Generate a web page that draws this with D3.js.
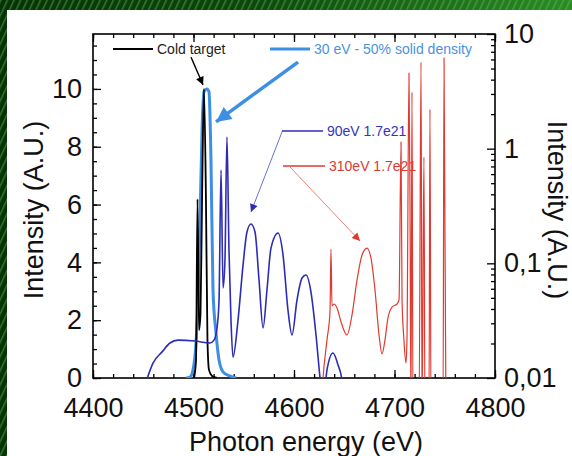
<!DOCTYPE html>
<html lang="en">
<head>
<meta charset="UTF-8">
<title>Photon energy spectra</title>
<script src="https://cdnjs.cloudflare.com/ajax/libs/d3/7.8.5/d3.min.js"></script>
<style>
  body { margin: 0; background: #fff; }
  svg { display: block; font-family: "Liberation Sans", Arial, Helvetica, sans-serif; }
</style>
</head>
<body>
<script>
// cold target spectrum (left axis, linear)
var coldE = [4500.5, 4502.5, 4504.0, 4505.5, 4507.0, 4508.5, 4510.4, 4512.4, 4513.9, 4515.4, 4518.4, 4523.4];
var coldI = [0, 0.62, 6.19, 1.66, 2.25, 6.16, 10.0, 6.16, 1.31, 0.28, 0.07, 0];

// 30 eV - 50% solid density (left axis, linear)
var hot30E = [4492.5, 4496.5, 4499.5, 4502.5, 4504.5, 4506.5, 4508.5, 4510.4, 4513.4, 4515.4, 4517.4, 4519.4, 4522.4, 4525.4, 4529.4, 4536.3, 4542.3];
var hot30I = [0, 0.03, 0.28, 1.21, 2.70, 5.47, 8.58, 9.90, 10.0, 9.90, 7.54, 3.04, 1.56, 0.62, 0.21, 0.07, 0];

// 90eV 1.7e21 (right axis, log)
var hot90E = [4453.7, 4459.7, 4468.7, 4476.6, 4484.6, 4501.5, 4516.4, 4520.4, 4523.4, 4525.4, 4527.4, 4529.4, 4531.3, 4533.3,
  4535.3, 4537.3, 4539.3, 4544.3, 4549.3, 4553.2, 4557.2, 4561.2, 4565.2, 4569.2, 4573.1, 4577.1, 4584.1, 4589.1, 4594.0,
  4598.0, 4603.0, 4608.0, 4611.9, 4616.9, 4621.9, 4625.9, 4628.9, 4632.8, 4638.8, 4643.8, 4647.8, 4650.0];
var hot90I = [0.0098, 0.0135, 0.0169, 0.0202, 0.0214, 0.0210, 0.0202, 0.0214, 0.0273, 0.0479, 0.650, 0.0609, 0.1069, 1.262,
  0.1306, 0.0320, 0.0152, 0.0320, 0.0966, 0.1875, 0.2201, 0.1875, 0.0715, 0.0273, 0.0585, 0.1359, 0.1837, 0.1181, 0.0392,
  0.0237, 0.0479, 0.0745, 0.0791, 0.0562, 0.0237, 0.0100, 0.0060, 0.0117, 0.0165, 0.0130, 0.0095, 0.0060];

// 310eV 1.7e21 (right axis, log)
var hot310E = [4626.9, 4628.9, 4632.8, 4635.8, 4636.8, 4637.8, 4639.8, 4642.8, 4646.8, 4652.7, 4657.7, 4662.7, 4667.7,
  4672.6, 4676.6, 4680.6, 4684.6, 4687.6, 4690.5, 4693.5, 4697.5, 4702.5, 4704.5, 4706.5, 4707.5, 4709.4, 4711.4, 4712.4,
  4714.4, 4715.4, 4716.4, 4717.4, 4718.4, 4724.4, 4726.4, 4727.4, 4729.3, 4730.3, 4734.3, 4735.3, 4736.3, 4748.3, 4749.3, 4751.2];
var hot310I = [0.005, 0.0100, 0.0214, 0.0376, 0.1333, 0.0425, 0.0442, 0.0408, 0.0308, 0.0237, 0.0354, 0.0715, 0.1181,
  0.1359, 0.1112, 0.0585, 0.0237, 0.0162, 0.0214, 0.0334, 0.0416, 0.0442, 0.0479, 1.142, 0.0479, 0.0214, 0.0135, 0.0214,
  4.56, 0.356, 0.005, 3.11, 0.005, 0.005, 5.69, 0.005, 0.845, 0.005, 0.005, 2.21, 0.005, 0.005, 6.17, 0.005];

// ticks
var xTicks = [4400, 4500, 4600, 4700, 4800];
var yLeftTicks = [0, 2, 4, 6, 8, 10];
var yRightTicks = [0.01, 0.1, 1, 10];
var yRightLabels = ["0,01", "0,1", "1", "10"];

var W = 572, H = 456;
var pL = 93, pR = 495, pT = 34, pB = 378;

var svg = d3.select("body").append("svg")
    .attr("width", W)
    .attr("height", H);

var defs = svg.append("defs");

// green slide background with stripes
var grad = defs.append("linearGradient").attr("id", "bgGrad").attr("x1", 0).attr("x2", 1).attr("y1", 0).attr("y2", 0);
grad.append("stop").attr("offset", 0).attr("stop-color", "#063306");
grad.append("stop").attr("offset", 0.45).attr("stop-color", "#0c480c");
grad.append("stop").attr("offset", 1).attr("stop-color", "#2a8c24");
var pat = defs.append("pattern").attr("id", "stripes")
    .attr("width", 6).attr("height", 6)
    .attr("patternUnits", "userSpaceOnUse")
    .attr("patternTransform", "rotate(25)");
pat.append("rect").attr("width", 1.5).attr("height", 6).attr("fill", "rgba(110,190,100,0.45)");

svg.append("rect").attr("width", W).attr("height", H).attr("fill", "url(#bgGrad)");
svg.append("rect").attr("width", W).attr("height", H).attr("fill", "url(#stripes)");
svg.append("rect").attr("x", 7).attr("y", 10).attr("width", W - 7).attr("height", H - 10).attr("fill", "#fff");

defs.append("clipPath").attr("id", "plotClip")
  .append("rect").attr("x", pL).attr("y", pT).attr("width", pR - pL).attr("height", pB - pT);

// scales
var x = d3.scaleLinear().domain([4400, 4800]).range([pL, pR]);
var yL = d3.scaleLinear().domain([0, 11.9]).range([pB, pT]);
var yR = d3.scaleLog().domain([0.01, 10]).range([pB, pT]);

// axes: inward ticks on all four sides
function styleAxis(g) {
    g.select(".domain").remove();
    g.selectAll(".tick line").attr("stroke", "#000").attr("stroke-width", 1.3);
    g.selectAll("text").attr("fill", "#111").style("font-size", "27px")
        .style("font-family", "'Liberation Sans', Arial, sans-serif");
}

svg.append("g").attr("transform", "translate(0," + pB + ")")
    .call(d3.axisBottom(x).tickValues(d3.range(4400, 4801, 20)).tickSize(-4).tickFormat(""))
    .call(styleAxis);
svg.append("g").attr("transform", "translate(0," + pB + ")")
    .call(d3.axisBottom(x).tickValues(xTicks).tickSize(-8).tickPadding(20).tickFormat(d3.format("d")))
    .call(styleAxis);
svg.append("g").attr("transform", "translate(0," + pT + ")")
    .call(d3.axisTop(x).tickValues(d3.range(4400, 4801, 20)).tickSize(-4).tickFormat(""))
    .call(styleAxis);
svg.append("g").attr("transform", "translate(0," + pT + ")")
    .call(d3.axisTop(x).tickValues(xTicks).tickSize(-8).tickFormat(""))
    .call(styleAxis);

svg.append("g").attr("transform", "translate(" + pL + ",0)")
    .call(d3.axisLeft(yL).tickValues(d3.range(0, 11.9, 0.5)).tickSize(-4).tickFormat(""))
    .call(styleAxis);
svg.append("g").attr("transform", "translate(" + pL + ",0)")
    .call(d3.axisLeft(yL).tickValues(yLeftTicks).tickSize(-8).tickPadding(11))
    .call(styleAxis);

var logMinor = [];
[0.01, 0.1, 1].forEach(function(dec) {
    for (var k = 2; k <= 9; k++) logMinor.push(k * dec);
});
svg.append("g").attr("transform", "translate(" + pR + ",0)")
    .call(d3.axisRight(yR).tickValues(logMinor).tickSize(-4).tickFormat(""))
    .call(styleAxis);
svg.append("g").attr("transform", "translate(" + pR + ",0)")
    .call(d3.axisRight(yR).tickValues(yRightTicks).tickSize(-8).tickPadding(9)
        .tickFormat(function(d, i) { return yRightLabels[i]; }))
    .call(styleAxis);

// frame
svg.append("rect")
    .attr("x", pL).attr("y", pT)
    .attr("width", pR - pL).attr("height", pB - pT)
    .attr("fill", "none").attr("stroke", "#000").attr("stroke-width", 1.6);

// axis titles
svg.append("text")
    .attr("x", 306).attr("y", 451)
    .attr("text-anchor", "middle")
    .style("font-size", "27px").attr("fill", "#111")
    .text("Photon energy (eV)");
svg.append("text")
    .attr("transform", "translate(43,210) rotate(-90)")
    .attr("text-anchor", "middle")
    .style("font-size", "27px").attr("fill", "#111")
    .text("Intensity (A.U.)");
svg.append("text")
    .attr("transform", "translate(548,210) rotate(90)")
    .attr("text-anchor", "middle")
    .style("font-size", "27px").attr("fill", "#111")
    .text("Intensity (A.U.)");

// legend entries / labels
var legend = [
    {x1: 113, x2: 153, y: 49, color: "#000", w: 2, text: "Cold target", tc: "#222"},
    {x1: 270, x2: 310, y: 49, color: "#3d8fe4", w: 3, text: "30 eV - 50% solid density", tc: "#4a92e0"},
    {x1: 282, x2: 323, y: 131, color: "#2c2cb4", w: 1.3, text: "90eV 1.7e21", tc: "#3434b8"},
    {x1: 283, x2: 325, y: 166, color: "#e03a30", w: 1.3, text: "310eV 1.7e21", tc: "#d83a34"}
];
legend.forEach(function(d) {
    svg.append("line").attr("x1", d.x1).attr("x2", d.x2).attr("y1", d.y).attr("y2", d.y)
        .attr("stroke", d.color).attr("stroke-width", d.w);
    svg.append("text").attr("x", d.x2 + 4).attr("y", d.y + 5)
        .style("font-size", "14px").attr("fill", d.tc).text(d.text);
});

// spectra
var plot = svg.append("g").attr("clip-path", "url(#plotClip)");
var lineL = d3.line().x(function(d) { return x(d[0]); }).y(function(d) { return yL(d[1]); }).curve(d3.curveMonotoneX);
var lineR = d3.line().x(function(d) { return x(d[0]); }).y(function(d) { return yR(d[1]); }).curve(d3.curveMonotoneX);

plot.append("path").datum(d3.zip(hot30E, hot30I)).attr("d", lineL)
    .attr("fill", "none").attr("stroke", "#3d8fe4").attr("stroke-width", 3);
plot.append("path").datum(d3.zip(coldE, coldI)).attr("d", lineL)
    .attr("fill", "none").attr("stroke", "#000").attr("stroke-width", 1.8);
plot.append("path").datum(d3.zip(hot90E, hot90I)).attr("d", lineR)
    .attr("fill", "none").attr("stroke", "#2c2cb4").attr("stroke-width", 1.6);
plot.append("path").datum(d3.zip(hot310E, hot310I)).attr("d", lineR)
    .attr("fill", "none").attr("stroke", "#e03a30").attr("stroke-width", 1.2);

// arrows (in left-axis units)
function marker(id, color, len, wid) {
    defs.append("marker").attr("id", id)
        .attr("viewBox", "0 0 10 10").attr("refX", 10).attr("refY", 5)
        .attr("markerUnits", "userSpaceOnUse")
        .attr("markerWidth", len).attr("markerHeight", wid)
        .attr("orient", "auto")
      .append("path").attr("d", "M0,0L10,5L0,10z").attr("fill", color);
}
marker("arrBlack", "#000", 9, 8);
marker("arrLight", "#3d8fe4", 17, 15);
marker("arrBlue", "#2c2cb4", 10, 8);
marker("arrRed", "#e03a30", 10, 8);

var arrows = [
    {e1: 4497.5, v1: 11.1, e2: 4509.5, v2: 10.14, color: "#000", w: 1.3, m: "arrBlack"},
    {e1: 4604, v1: 10.93, e2: 4522.4, v2: 8.86, color: "#3d8fe4", w: 3.5, m: "arrLight"},
    {e1: 4588.5, v1: 8.55, e2: 4557.2, v2: 5.74, color: "#4a4ad0", w: 0.8, m: "arrBlue"},
    {e1: 4596, v1: 7.30, e2: 4665.7, v2: 4.74, color: "#e86050", w: 0.8, m: "arrRed"}
];
arrows.forEach(function(a) {
    svg.append("line")
        .attr("x1", x(a.e1)).attr("y1", yL(a.v1))
        .attr("x2", x(a.e2)).attr("y2", yL(a.v2))
        .attr("stroke", a.color).attr("stroke-width", a.w)
        .attr("marker-end", "url(#" + a.m + ")");
});
</script>
</body>
</html>
